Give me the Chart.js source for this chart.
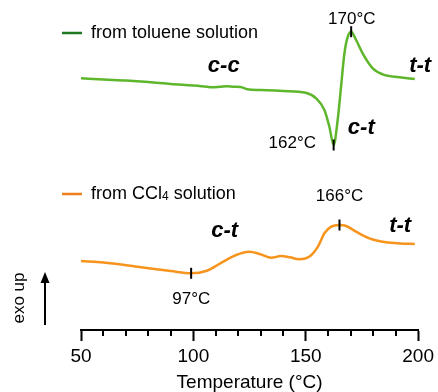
<!DOCTYPE html>
<html>
<head>
<meta charset="utf-8">
<script src="https://cdn.jsdelivr.net/npm/chart.js@4.4.1/dist/chart.umd.min.js"></script>
<style>
  html, body { margin: 0; padding: 0; background: #fff; }
  #wrap { width: 438px; height: 392px; position: relative; }
</style>
</head>
<body>
<div id="wrap"><canvas id="dscChart"></canvas></div>
<script>
// DSC traces (heat flow in arbitrary units, exo up, traces offset)
const tolueneTemps = [50, 60, 70, 80, 90, 100, 106, 108, 112, 115, 118, 121, 124, 130, 140, 150,
  154.6, 158.3, 160.5, 162.4, 164.2, 165.7, 167.2, 168.7, 170.2, 172.4, 175.3, 179.8, 184.2, 191.6, 198.5];
const tolueneFlow = [251.7, 250.5, 249.5, 248, 246, 244.5, 243.3, 242.7, 243.3, 243.8, 243.2, 243, 240.7, 240, 239, 237.3,
  231.7, 220, 203.3, 185, 210, 243.3, 276.7, 293.3, 298.3, 290, 276.7, 261.7, 255.7, 252.7, 251];

const cclTemps = [50, 60, 75, 90, 99, 106, 112, 119, 125, 129.5, 134.7, 139, 143, 147, 152,
  155.4, 158.3, 161.3, 165, 168, 172.4, 178.3, 185.7, 192, 198.5];
const cclFlow = [69, 67.5, 63.3, 59, 56.7, 59.3, 66.7, 75, 78.3, 76, 72.3, 74, 72.7, 70.7, 74,
  83.3, 96.7, 103.3, 105, 104, 98.3, 91.7, 87.7, 86.5, 86];

const seriesLabels = ['from toluene solution', 'from CCl4 solution'];
const xTicks = [50, 100, 150, 200];

// marked temperatures: [series index, temperature on the trace, label]
const markedPeaks = [
  [0, 170.2, '170°C'],
  [0, 162.4, '162°C'],
  [1, 165, '166°C'],
  [1, 99, '97°C']
];

const toPoints = (xs, ys) => xs.map((t, i) => ({ x: t, y: ys[i] }));

const lineColors = ['#5db62c', '#f7941d'];
const legendColors = ['#1f7a1f', '#f07f1e'];
const FONT = '"Liberation Sans", Arial, sans-serif';

// text labels placed in data coordinates
const notes = [
  { t: 170.5, v: 311, text: '170°C', bold: false },
  { t: 144, v: 187, text: '162°C', bold: false },
  { t: 165, v: 134, text: '166°C', bold: false },
  { t: 99.1, v: 31, text: '97°C', bold: false },
  { t: 113.5, v: 264, text: 'c-c', bold: true },
  { t: 200.9, v: 264, text: 't-t', bold: true },
  { t: 174.7, v: 202, text: 'c-t', bold: true },
  { t: 113.9, v: 99, text: 'c-t', bold: true },
  { t: 192, v: 104, text: 't-t', bold: true }
];

const decorPlugin = {
  id: 'decor',
  afterDraw(chart) {
    const ctx = chart.ctx;
    const xs = chart.scales.x;
    const ys = chart.scales.y;
    const area = chart.chartArea;
    ctx.save();

    // minor ticks every 10 degrees
    ctx.strokeStyle = '#000';
    ctx.lineWidth = 2;
    for (let t = 60; t < 200; t += 10) {
      if (t % 50 === 0) continue;
      const x = Math.round(xs.getPixelForValue(t));
      ctx.beginPath();
      ctx.moveTo(x, area.bottom);
      ctx.lineTo(x, area.bottom + 6);
      ctx.stroke();
    }

    // short black marks on the traces
    markedPeaks.forEach(([s, t]) => {
      const p = chart.data.datasets[s].data.find(pt => pt.x === t);
      const x = xs.getPixelForValue(p.x);
      const y = ys.getPixelForValue(p.y);
      ctx.beginPath();
      ctx.moveTo(x, y - 5.5);
      ctx.lineTo(x, y + 5.5);
      ctx.stroke();
    });

    // annotations
    ctx.fillStyle = '#000';
    ctx.textAlign = 'center';
    ctx.textBaseline = 'middle';
    notes.forEach(n => {
      ctx.font = n.bold ? 'italic bold 22px ' + FONT : '17px ' + FONT;
      ctx.fillText(n.text, xs.getPixelForValue(n.t), ys.getPixelForValue(n.v));
    });

    // legends next to each trace
    const legendY = [33, 194];
    ctx.textAlign = 'left';
    legendY.forEach((y, i) => {
      ctx.strokeStyle = legendColors[i];
      ctx.lineWidth = 2.5;
      ctx.beginPath();
      ctx.moveTo(62, y);
      ctx.lineTo(82, y);
      ctx.stroke();
      ctx.fillStyle = '#000';
      ctx.font = '18px ' + FONT;
      if (i === 1) {
        // CCl4 with a subscript 4
        const parts = seriesLabels[1].split('4');
        let x = 91;
        ctx.fillText(parts[0], x, y);
        x += ctx.measureText(parts[0]).width;
        ctx.font = '12px ' + FONT;
        ctx.fillText('4', x, y + 3);
        x += ctx.measureText('4').width;
        ctx.font = '18px ' + FONT;
        ctx.fillText(parts[1], x, y);
      } else {
        ctx.fillText(seriesLabels[0], 91, y);
      }
    });

    // "exo up" arrow
    ctx.strokeStyle = '#000';
    ctx.lineWidth = 2;
    ctx.beginPath();
    ctx.moveTo(45, 325);
    ctx.lineTo(45, 281);
    ctx.stroke();
    ctx.beginPath();
    ctx.moveTo(45, 272);
    ctx.lineTo(40.5, 283);
    ctx.lineTo(49.5, 283);
    ctx.closePath();
    ctx.fill();

    ctx.translate(19, 298);
    ctx.rotate(-Math.PI / 2);
    ctx.textAlign = 'center';
    ctx.font = '17px ' + FONT;
    ctx.fillText('exo up', 0, 0);

    ctx.restore();
  }
};

const ctx = document.getElementById('dscChart').getContext('2d');
const dscChart = new Chart(ctx, {
  type: 'line',
  data: {
    datasets: [
      { label: seriesLabels[0], data: toPoints(tolueneTemps, tolueneFlow) },
      { label: seriesLabels[1], data: toPoints(cclTemps, cclFlow) }
    ].map((d, i) => Object.assign(d, {
      borderColor: lineColors[i],
      borderWidth: 2.5,
      pointRadius: 0,
      fill: false,
      cubicInterpolationMode: 'monotone'
    }))
  },
  options: {
    responsive: true,
    maintainAspectRatio: false,
    animation: false,
    layout: { padding: { left: 81, right: 19, top: 10, bottom: 0 } },
    plugins: {
      legend: { display: false },
      tooltip: { enabled: false }
    },
    scales: {
      x: {
        type: 'linear',
        min: 50,
        max: 200,
        afterBuildTicks: axis => { axis.ticks = xTicks.map(v => ({ value: v })); },
        ticks: {
          color: '#000',
          padding: 4,
          maxRotation: 0,
          font: { family: FONT, size: 19 }
        },
        grid: {
          drawOnChartArea: false,
          tickLength: 11,
          tickWidth: 2,
          tickColor: '#000'
        },
        border: { color: '#000', width: 2 },
        title: {
          display: true,
          text: 'Temperature (°C)',
          color: '#000',
          padding: { top: 2, bottom: 0 },
          font: { family: FONT, size: 19, lineHeight: 1.0 }
        },
        afterFit: axis => { axis.height = 62; }
      },
      y: {
        display: false,
        min: 0,
        max: 320
      }
    }
  },
  plugins: [decorPlugin]
});
</script>
</body>
</html>
